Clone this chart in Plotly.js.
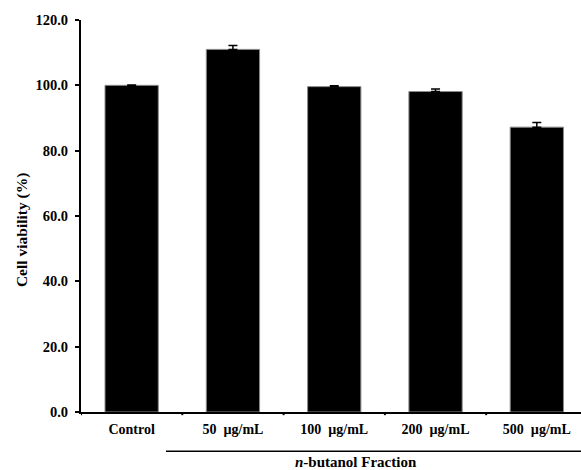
<!DOCTYPE html>
<html>
<head>
<meta charset="utf-8">
<script src="https://cdn.plot.ly/plotly-3.0.1.min.js"></script>
<style>body{margin:0;padding:0;background:#fff;}#chart{width:581px;height:470px;}</style>
</head>
<body>
<div id="chart"></div>
<script>
const categories = ["Control", "50\u00a0\u00a0\u00b5g/mL", "100\u00a0\u00a0\u00b5g/mL", "200\u00a0\u00a0\u00b5g/mL", "500\u00a0\u00a0\u00b5g/mL"];
const viability = [100.0, 111.0, 99.6, 98.1, 87.2];
const errors = [0.1, 1.2, 0.3, 0.8, 1.4];
const yTicks = [0, 20, 40, 60, 80, 100, 120];
const yTitle = "Cell viability (%)";
const groupLabel = "<i>n</i>-butanol Fraction";

const FONT = "'Liberation Serif', 'Times New Roman', serif";
const xIdx = categories.map((c, i) => i);

const trace = {
  type: "bar",
  x: xIdx,
  y: viability,
  width: 0.526,
  marker: {color: "#000000", line: {color: "#8a8a8a", width: 1}},
  error_y: {type: "data", array: errors, symmetric: false, arrayminus: errors.map(() => 0),
            color: "#000000", thickness: 1.5, width: 4.5},
  hoverinfo: "none"
};

const layout = {
  width: 581, height: 470,
  margin: {l: 81, r: 0, t: 20, b: 58},
  paper_bgcolor: "#ffffff", plot_bgcolor: "#ffffff",
  showlegend: false,
  font: {family: FONT, color: "#000", size: 14},
  xaxis: {
    range: [-0.5, 4.436],
    tickmode: "array", tickvals: xIdx, ticktext: categories,
    showline: true, linecolor: "#000", linewidth: 2,
    ticks: "", showgrid: false, zeroline: false,
    ticklabelstandoff: 3,
    tickfont: {family: FONT, size: 14, color: "#000", weight: "bold"},
    fixedrange: true
  },
  yaxis: {
    range: [0, 120],
    tickmode: "array", tickvals: yTicks, ticktext: yTicks.map(v => v.toFixed(1)),
    showline: true, linecolor: "#000", linewidth: 2,
    ticks: "outside", ticklen: 4, tickwidth: 2, tickcolor: "#000",
    ticklabelstandoff: 4,
    showgrid: false, zeroline: false,
    tickfont: {family: FONT, size: 14.5, color: "#000", weight: "bold"},
    fixedrange: true
  },
  shapes: [
    {type: "line", xref: "paper", yref: "paper", x0: 0.17, x1: 1.02, y0: -0.1003, y1: -0.1003,
     line: {color: "#000", width: 1.5}},
  ].concat([-0.5, 0.5, 1.5, 2.5, 3.5].map(b => ({
    type: "line", xref: "x", yref: "paper", x0: b, x1: b, y0: 0, y1: -0.008,
    line: {color: "#000", width: 2}
  }))),
  annotations: [
    {xref: "paper", yref: "paper", x: 0.55, y: -0.128, xanchor: "center", yanchor: "middle",
     text: "<b>" + groupLabel + "</b>", showarrow: false, font: {family: FONT, size: 15, color: "#000"}},
    {xref: "paper", yref: "paper", x: -0.118, y: 0.464, xanchor: "center", yanchor: "middle",
     textangle: -90, text: "<b>" + yTitle + "</b>", showarrow: false,
     font: {family: FONT, size: 15.5, color: "#000"}}
  ]
};

Plotly.newPlot("chart", [trace], layout, {displayModeBar: false, staticPlot: true});
</script>
</body>
</html>
